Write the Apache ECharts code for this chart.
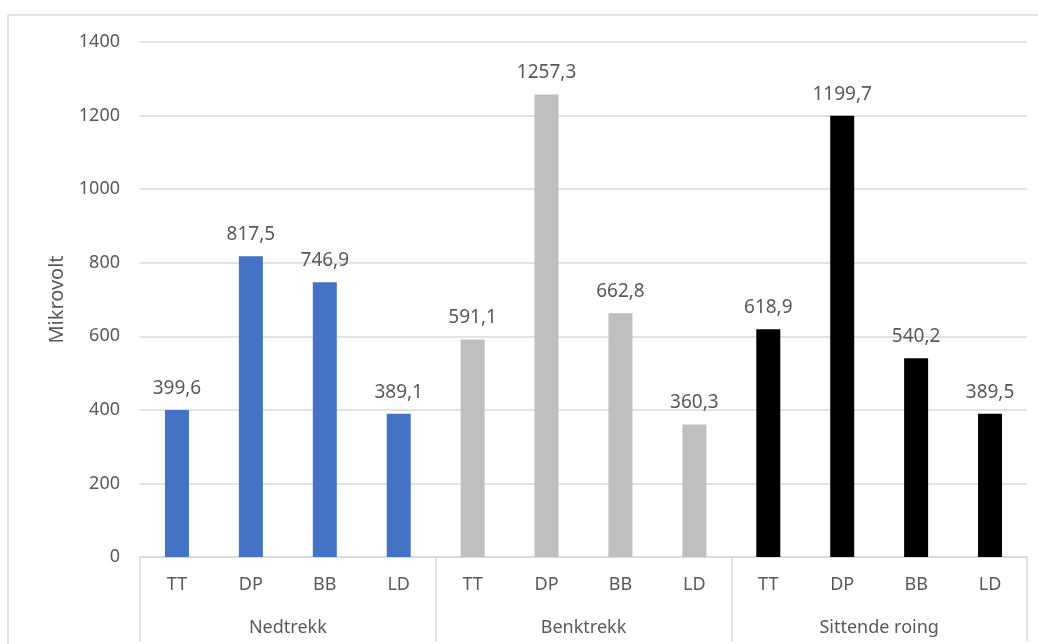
<!DOCTYPE html>
<html>
<head>
<meta charset="utf-8">
<script src="https://cdn.jsdelivr.net/npm/echarts@6/dist/echarts.min.js"></script>
<style>html,body{margin:0;padding:0;background:#fff}#c{width:1038px;height:644px}</style>
</head>
<body>
<div id="c"></div>
<script>
const groups = ['Nedtrekk', 'Benktrekk', 'Sittende roing'];
const muscles = ['TT', 'DP', 'BB', 'LD'];
const nedtrekk = [399.6, 817.5, 746.9, 389.1];
const benktrekk = [591.1, 1257.3, 662.8, 360.3];
const sittendeRoing = [618.9, 1199.7, 540.2, 389.5];
const groupColors = ['#4472C4', '#BFBFBF', '#000000'];
const yTicks = [0, 200, 400, 600, 800, 1000, 1200, 1400];

const seriesByGroup = [nedtrekk, benktrekk, sittendeRoing];
const categories = [];
const barData = [];
seriesByGroup.forEach((vals, g) => {
  vals.forEach((v, i) => {
    categories.push(muscles[i]);
    barData.push({ value: v, itemStyle: { color: groupColors[g] } });
  });
});

const font = 'Noto Sans';
const textColor = '#595959';
const lineColor = '#D9D9D9';

const chart = echarts.init(document.getElementById('c'));
chart.setOption({
  animation: false,
  grid: { left: 140, right: 11, top: 42, bottom: 87 },
  xAxis: [
    {
      type: 'category',
      data: categories,
      axisLine: { lineStyle: { color: lineColor, width: 1.5 } },
      axisTick: { show: false },
      axisLabel: { color: textColor, fontFamily: font, fontSize: 18, margin: 19 }
    },
    {
      type: 'category',
      data: groups,
      position: 'bottom',
      axisLine: { show: false },
      axisTick: { show: true, length: 84, lineStyle: { color: lineColor, width: 1.5 } },
      axisLabel: { color: textColor, fontFamily: font, fontSize: 18, margin: 62 },
      splitLine: { show: false }
    }
  ],
  yAxis: {
    type: 'value',
    min: yTicks[0],
    max: yTicks[yTicks.length - 1],
    interval: yTicks[1] - yTicks[0],
    name: 'Mikrovolt',
    nameLocation: 'middle',
    nameGap: 73,
    nameTextStyle: { color: textColor, fontFamily: font, fontSize: 20 },
    axisLine: { show: false },
    axisTick: { show: false },
    axisLabel: { color: textColor, fontFamily: font, fontSize: 18, margin: 20, formatter: v => String(v) },
    splitLine: { lineStyle: { color: lineColor, width: 1.5 } }
  },
  series: [{
    type: 'bar',
    xAxisIndex: 0,
    data: barData,
    barWidth: 24,
    label: {
      show: true,
      position: 'top',
      distance: 12,
      color: textColor,
      fontFamily: font,
      fontSize: 19,
      formatter: p => p.value.toFixed(1).replace('.', ',')
    }
  }],
  graphic: [
    { type: 'polyline', shape: { points: [[8, 644], [8, 15], [1038, 15]] }, style: { stroke: lineColor, lineWidth: 1.5, fill: null }, silent: true }
  ]
});
</script>
</body>
</html>
